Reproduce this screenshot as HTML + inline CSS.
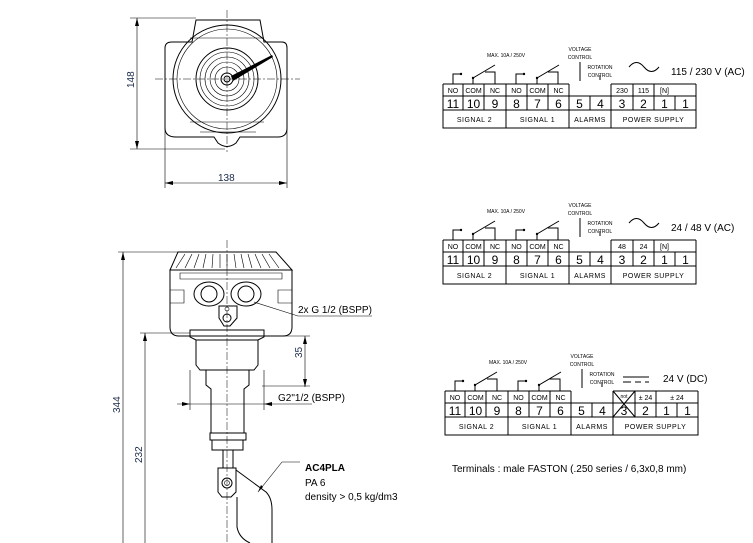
<!DOCTYPE html>
<html><head><meta charset="utf-8"><style>
html,body{margin:0;padding:0;background:#fff;}
svg{display:block;font-family:"Liberation Sans",sans-serif;}
.l{stroke:#000;stroke-width:1;fill:none}
.t{stroke:#000;stroke-width:0.6;fill:none}
.c{stroke:#000;stroke-width:0.5;fill:none;stroke-dasharray:8 2 2 2}
.s{font-size:5px}
.h{font-size:7px}
.n{font-size:12px}
.d{fill:#1a2a4a}
</style></head><body>
<svg width="753" height="543" viewBox="0 0 753 543">
<defs>
<g id="tbl">
<path class="l" d="M0 0H126M168 0H253M0 0V44H253V0M0 12H253M0 26H253M20 0V26M41 0V26M63 0V44M84 0V26M105 0V26M126 0V44M147 12V26M168 0V44M190 0V26M211 0V26M232 12V26"/>
<g class="n" text-anchor="middle">
<text x="10" y="24">11</text><text x="30.5" y="24">10</text><text x="52" y="24">9</text><text x="73.5" y="24">8</text><text x="94.5" y="24">7</text><text x="115.5" y="24">6</text><text x="136.5" y="24">5</text><text x="157.5" y="24">4</text><text x="179" y="24">3</text><text x="200.5" y="24">2</text><text x="221.5" y="24">1</text><text x="242.5" y="24">1</text>
</g>
<g class="h" text-anchor="middle">
<text x="10" y="9">NO</text><text x="30.5" y="9">COM</text><text x="52" y="9">NC</text><text x="73.5" y="9">NO</text><text x="94.5" y="9">COM</text><text x="115.5" y="9">NC</text>
<text x="31.5" y="38" letter-spacing="0.5">SIGNAL 2</text><text x="94.5" y="38" letter-spacing="0.5">SIGNAL 1</text><text x="147" y="38" letter-spacing="0.5">ALARMS</text><text x="210.5" y="38" letter-spacing="0.5">POWER SUPPLY</text>
</g>
<path class="l" d="M10 0V-10H18M30 0V-6L52 -19M52 0V-12H42M73 0V-10H81M94 0V-6L116 -19M115 0V-12H105M137 -3V-22M157 -4V-9"/>
<circle cx="18" cy="-10" r="1.2"/><circle cx="30" cy="-6" r="1.2"/><circle cx="81" cy="-10" r="1.2"/><circle cx="94" cy="-6" r="1.2"/>
<g class="s" text-anchor="middle">
<text x="63" y="-27">MAX. 10A / 250V</text>
<text x="137" y="-33">VOLTAGE</text><text x="137" y="-25">CONTROL</text>
<text x="157" y="-15">ROTATION</text><text x="157" y="-7">CONTROL</text>
</g>
</g>
</defs>

<g transform="translate(443,84)"><use href="#tbl"/>
<g class="h" text-anchor="middle"><text x="179" y="9">230</text><text x="200.5" y="9">115</text><text x="221.5" y="9">[N]</text></g>
<path class="l" d="M186 -17c5 -6 10 -6 15 0s10 6 15 0"/>
<text x="228" y="-9" font-size="10">115 / 230 V (AC)</text></g>

<g transform="translate(443,240)"><use href="#tbl"/>
<g class="h" text-anchor="middle"><text x="179" y="9">48</text><text x="200.5" y="9">24</text><text x="221.5" y="9">[N]</text></g>
<path class="l" d="M186 -17c5 -6 10 -6 15 0s10 6 15 0"/>
<text x="228" y="-9" font-size="10">24 / 48 V (AC)</text></g>

<g transform="translate(445,391)"><use href="#tbl"/>
<rect x="169" y="1" width="20" height="10" fill="#fff"/>
<path class="l" d="M168 0L190 26M190 0L168 26M211 0V12"/>
<g class="h" text-anchor="middle"><text x="179" y="7" font-size="5">not</text><text x="200.5" y="9">± 24</text><text x="232" y="9">± 24</text></g>
<path class="l" d="M178 -14H204M178 -9H186M190 -9H196M200 -9H204"/>
<text x="218" y="-9" font-size="10">24 V (DC)</text></g>

<text x="452" y="472" font-size="10">Terminals : male FASTON (.250 series / 6,3x0,8 mm)</text>

<!-- top view -->
<g>
<path class="l" d="M165 48Q165 42 172 42H192L196 20H260L264 42H282Q287 42 287 48V128Q287 137 278 137H240L236 143Q227 150 218 143L214 137H176Q165 137 165 128Z"/>
<circle class="l" cx="227" cy="79" r="54"/>
<circle class="t" cx="227" cy="79" r="50"/>
<path class="t" d="M190 38H264M190 122H264M200 132H256"/>
<circle class="l" cx="227" cy="79" r="31"/>
<circle class="t" cx="227" cy="79" r="27"/>
<circle class="t" cx="227" cy="79" r="22"/>
<circle class="t" cx="227" cy="79" r="17"/>
<circle class="t" cx="227" cy="79" r="12"/>
<circle class="l" cx="227" cy="79" r="6"/>
<circle class="l" cx="227" cy="79" r="3"/>
<path d="M231 76L272 55L273 57L233 81Z"/>
<path class="c" d="M227 10V152M155 79H300"/>
<path class="t" d="M137 18V149M130 18H196M130 149H225M165 128V188M287 128V188M165 183H287"/>
<path d="M137 18l-2 8h4zM137 149l-2 -8h4zM165 183l8 -2v4zM287 183l-8 -2v4z"/>
<text class="d" x="0" y="0" font-size="10" transform="translate(134,88) rotate(-90)">148</text>
<text class="d" x="218" y="181" font-size="10">138</text>
</g>

<!-- side view -->
<g>
<path class="l" d="M178 252H276L292 270H170Z"/>
<path class="t" d="M185 254L176 268M192 254L185 268M199 254L194 268M206 254L203 268M213 254L212 268M220 254L220 268M227 254V268M234 254L236 268M241 254L244 268M248 254L252 268M255 254L261 268M262 254L270 268M269 254L279 268"/>
<path class="l" d="M170 270H292V327Q292 336 283 336H179Q170 336 170 327Z"/>
<path class="t" d="M180 273H282V279H180ZM170 290H184V303H170M292 290H278V303H292"/>
<ellipse class="l" cx="209" cy="294" rx="15" ry="12"/><circle class="l" cx="209" cy="294" r="8"/>
<ellipse class="l" cx="246" cy="294" rx="15" ry="12"/><circle class="l" cx="246" cy="294" r="8"/>
<path class="l" d="M219 306H237V318L230 326H224L219 318Z"/><circle class="l" cx="227" cy="318" r="4"/><circle class="t" cx="227" cy="309" r="2"/>
<path class="l" d="M190 330H264V337L258 340H196L190 337ZM196 340V365L200 370H254L258 365V340"/>
<path class="l" d="M206 370V385L211 389V433H244V389L249 385V370"/>
<path class="l" d="M210 433H246V440H210ZM212 440H243V450H212ZM223 450V468M233 450V468"/>
<path class="l" d="M218 468H236V492L231 497H222L218 492Z"/><circle class="l" cx="227" cy="483" r="5"/><circle class="t" cx="227" cy="483" r="2.5"/>
<path class="l" d="M236 470L266 492Q272 498 272 510V543M237 497V527Q239 538 250 543"/>
<path class="c" d="M227 240V543"/>
<path class="t" d="M123 252V543M118 252H190M145 333V543M140 333H190M305 336V387M262 336H310M262 386H310M177 404H312M190 370V410M264 370V410M254 302L298 316H372M282 462H300M282 462L258 492"/>
<path d="M123 252l-2 8h4zM145 333l-2 8h4zM305 336l-2 8h4zM305 387l-2 -8h4zM190 404l-8 -2v4zM264 404l8 -2v4zM258 492l3 -7 2 2z"/>
<text class="d" font-size="10" transform="translate(120,413) rotate(-90)">344</text>
<text class="d" font-size="10" transform="translate(142,463) rotate(-90)">232</text>
<text class="d" font-size="10" transform="translate(302,358) rotate(-90)">35</text>
<text x="298" y="313" font-size="10">2x G 1/2  (BSPP)</text>
<text x="278" y="401" font-size="10">G2"1/2 (BSPP)</text>
<text x="305" y="471" font-size="10" font-weight="bold">AC4PLA</text>
<text x="305" y="486" font-size="10">PA 6</text>
<text x="305" y="500" font-size="10">density &gt; 0,5 kg/dm3</text>
</g>
</svg>
</body></html>
